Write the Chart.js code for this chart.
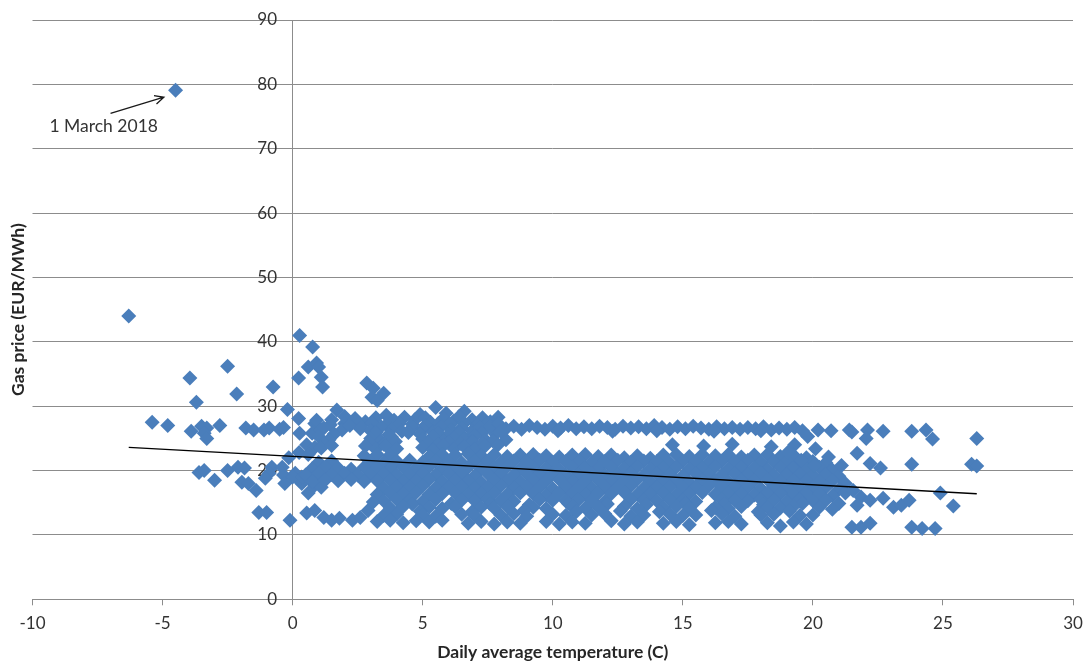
<!DOCTYPE html>
<html>
<head>
<meta charset="utf-8">
<script src="https://cdn.jsdelivr.net/npm/chart.js@4.4.1/dist/chart.umd.min.js"></script>
<style>
  body { margin: 0; background: #fff; }
  #box { width: 1083px; height: 661px; }
</style>
</head>
<body>
<div id="box"><canvas id="scatterChart" width="1083" height="661"></canvas></div>
<script>
// [temperature C, gas price EUR/MWh]
var outlierDays = [[-4.5,79.1],[-6.3,44.0]];

var coldDays = [
  [-5.4,27.5],[-4.8,27.0],[-3.9,26.1],[-3.5,26.9],[-3.3,26.6],[-3.4,25.8],[-3.3,25.0],[-2.8,27.0],
  [-1.8,26.6],[-1.5,26.3],[-1.1,26.3],[-0.9,26.6],[-0.5,26.4],[-0.35,26.7],[-0.2,29.5],
  [-3.95,34.4],[-2.5,36.2],[-3.7,30.6],[-2.15,31.9],[-0.75,33.0],
  [-3.6,19.7],[-3.4,20.0],[-3.0,18.5],[-2.5,20.0],[-2.1,20.5],[-1.85,20.4],[-1.95,18.2],[-1.7,18.0],
  [-1.4,16.9],[-1.3,13.5],[-1.0,13.5],[-0.8,20.5],[-0.9,19.6],[-1.05,18.8],[-0.4,20.5],[-0.35,19.3],
  [-0.3,18.0],[-0.1,12.3],[-0.15,22.0],[0.1,19.6],[0.25,18.5],[0.0,19.0],[0.35,18.0],[0.85,17.7],
  [0.6,16.5],[1.1,19.0],[1.1,17.4],[0.23,28.1],[0.27,25.8],[0.25,22.8],[0.54,24.0],[0.85,23.6],
  [0.85,27.3],[0.92,27.8],[0.75,25.8],[1.1,26.3],[0.6,22.5],[0.85,19.6],[0.35,19.0]
];

var spikeDays = [
  [0.27,41.0],[0.77,39.2],[0.6,36.1],[0.92,36.7],[1.0,36.1],[0.23,34.4],[1.1,34.5],[1.15,33.0],
  [2.85,33.6],[3.1,32.8],[3.05,31.4],[3.5,32.0],[3.25,30.9]
];

var upperBand = [
  [1.7,29.4],[2.0,28.4],[3.6,28.6],[4.9,28.7],[5.5,29.8],[5.9,28.9],[6.6,29.2],[7.9,28.3],
  [1.5,27.9],[2.4,28.1],[2.8,27.6],[3.2,28.2],[3.9,27.8],[4.3,28.3],[4.7,27.9],[5.1,28.2],[5.3,27.5],
  [5.8,28.1],[6.2,27.7],[6.4,28.4],[6.9,27.9],[7.3,28.2],[7.6,27.6],
  [1.45,27.1],[2.0,27.3],[2.55,27.2],[3.05,27.4],[3.6,27.1],[4.1,27.3],[4.6,27.2],[5.1,27.0],
  [5.6,27.3],[6.05,27.2],[6.6,27.4],[7.1,27.1],[7.5,27.3],
  [1.2,26.6],[1.9,26.3],[2.2,27.0],[2.6,26.5],[3.0,26.2],[3.4,26.8],[3.8,26.4],[4.2,26.1],[4.6,26.7],
  [5.0,26.4],[5.4,26.0],[5.7,26.8],[6.1,26.3],[6.5,26.6],[6.9,26.2],[7.2,26.7],
  [1.6,25.7],[3.2,25.9],[3.7,25.6],[4.45,25.9],[4.9,25.7],[5.6,25.8],[6.0,25.6],[6.4,25.9],[6.9,25.7],
  [7.3,25.9],[7.8,25.7],
  [1.0,25.3],[1.4,24.8],[3.0,25.0],[3.4,24.6],[3.8,25.2],[5.0,24.9],[5.4,25.3],[5.8,24.7],[6.2,25.1],
  [6.6,24.9],[7.0,25.4],[7.4,24.8],[7.7,24.6],[8.2,24.8],
  [1.2,24.2],[2.95,24.4],[3.5,24.1],[3.95,24.5],[5.2,24.3],[5.6,24.1],[6.0,24.4],[6.45,24.2],
  [6.9,24.5],[7.3,24.2],[7.9,24.0],
  [1.1,23.5],[1.5,23.9],[2.8,23.8],[3.2,23.3],[3.6,23.8],[4.0,23.4],[5.0,23.6],[5.4,23.2],[5.8,23.9],
  [6.2,23.4],[6.6,23.7],[7.0,23.3],[7.4,23.8],
  [7.6,26.9],[7.9,27.3],[8.2,26.5],[8.5,26.9],[8.8,26.4],[9.1,27.0],[9.4,26.7],[9.7,26.4],[10.0,26.9],
  [10.3,26.6],[10.6,27.0],[10.9,26.5],[11.2,26.8],[11.5,26.5],[11.8,26.9],[12.1,26.7],[12.4,26.4],
  [12.7,26.9],[13.0,26.6],[13.3,26.8],[13.6,26.5],[13.9,27.0],[14.2,26.7],[14.5,26.4],[14.8,26.8],
  [15.1,26.5],[15.4,26.9],[15.7,26.6],[16.0,26.4],[16.3,26.8],[16.6,26.5],[16.9,26.7],[17.2,26.4],
  [17.5,26.7],[17.8,26.5],[18.1,26.8],[18.4,26.3],[18.7,26.6],[19.0,26.4],[19.3,26.7],[19.6,26.2],
  [8.0,26.1],[10.2,26.2],[12.3,26.1],[14.0,26.2],[16.2,26.1],[18.0,26.2],
  [19.8,25.3],[20.2,26.3],[20.7,26.2],[21.4,26.3],[21.5,26.0],[22.1,26.3],[22.05,25.0],[22.7,26.1],
  [23.8,26.1],[24.35,26.3],[24.6,24.9],[26.3,25.0]
];

var gapDays = [
  [14.6,24.0],[15.8,23.8],[16.9,24.1],[18.4,23.7],[19.3,24.0],[20.1,23.4]
];

var middleBlock = [
  [2.75,22.3],[3.25,22.5],[3.75,22.4],[5.25,22.2],[5.75,22.5],[6.25,22.4],[6.75,22.6],[7.25,22.3],
  [7.75,22.5],[8.25,22.2],[8.75,22.4],[9.25,22.5],[9.75,22.3],[10.25,22.1],[10.75,22.4],[11.25,22.5],
  [11.75,22.2],[12.25,22.4],[12.75,22.0],[13.25,22.3],[13.75,21.9],[14.25,22.4],[14.75,22.5],
  [15.25,22.2],[15.75,22.5],[16.25,22.3],[16.75,22.5],[17.25,22.1],[17.75,22.4],[18.25,22.5],
  [18.75,22.2],[19.25,22.4],[19.75,22.0],
  [1.0,21.3],[1.5,21.5],[3.0,21.4],[3.5,21.3],[4.0,21.5],[4.5,21.6],[5.0,21.3],[5.5,21.5],[6.0,21.4],
  [6.5,21.2],[7.0,21.5],[7.5,21.4],[8.0,21.3],[8.5,21.5],[9.0,21.4],[9.5,21.6],[10.0,21.3],[10.5,21.4],
  [11.0,21.5],[11.5,21.3],[12.0,21.4],[12.5,21.6],[13.0,21.3],[13.5,21.5],[14.0,21.4],[14.5,21.2],
  [15.0,21.5],[15.5,21.4],[16.0,21.3],[16.5,21.5],[17.0,21.4],[17.5,21.6],[18.0,21.3],[18.5,21.4],
  [19.0,21.5],[19.5,21.3],[20.0,21.4],[20.5,21.2],
  [0.75,20.3],[1.25,20.5],[1.75,20.4],[2.25,20.2],[2.75,20.5],[3.25,20.4],[3.75,20.3],[4.25,20.5],
  [4.75,20.4],[5.25,20.6],[5.75,20.3],[6.25,20.4],[6.75,20.5],[7.25,20.3],[7.75,20.4],[8.25,20.6],
  [8.75,20.3],[9.25,20.5],[9.75,20.4],[10.25,20.2],[10.75,20.5],[11.25,20.4],[11.75,20.3],
  [12.25,20.5],[12.75,20.4],[13.25,20.6],[13.75,20.3],[14.25,20.4],[14.75,20.5],[15.25,20.3],
  [15.75,20.4],[16.25,20.6],[16.75,20.3],[17.25,20.5],[17.75,20.4],[18.25,20.2],[18.75,20.5],
  [19.25,20.4],[19.75,20.3],[20.25,20.5],[20.75,20.1],
  [0.5,19.3],[1.0,19.5],[1.5,19.4],[2.0,19.6],[2.5,19.3],[3.0,19.4],[3.5,19.5],[4.0,19.3],[4.5,19.4],
  [5.0,19.6],[5.5,19.3],[6.0,19.5],[6.5,19.4],[7.0,19.2],[7.5,19.5],[8.0,19.4],[8.5,19.3],[9.0,19.5],
  [9.5,19.4],[10.0,19.6],[10.5,19.3],[11.0,19.4],[11.5,19.5],[12.0,19.3],[12.5,19.4],[13.0,19.6],
  [13.5,19.3],[14.0,19.5],[14.5,19.4],[15.0,19.2],[15.5,19.5],[16.0,19.4],[16.5,19.3],[17.0,19.5],
  [17.5,19.4],[18.0,19.6],[18.5,19.3],[19.0,19.4],[19.5,19.5],[20.0,19.3],[20.5,19.4],[21.0,19.1],
  [0.75,18.3],[1.25,18.5],[1.75,18.4],[2.25,18.6],[2.75,18.3],[3.25,18.4],[3.75,18.5],[4.25,18.3],
  [4.75,18.4],[5.25,18.6],[5.75,18.3],[6.25,18.5],[6.75,18.4],[7.25,18.2],[7.75,18.5],[8.25,18.4],
  [8.75,18.3],[9.25,18.5],[9.75,18.4],[10.25,18.6],[10.75,18.3],[11.25,18.4],[11.75,18.5],
  [12.25,18.3],[12.75,18.4],[13.25,18.6],[13.75,18.3],[14.25,18.5],[14.75,18.4],[15.25,18.2],
  [15.75,18.5],[16.25,18.4],[16.75,18.3],[17.25,18.5],[17.75,18.4],[18.25,18.6],[18.75,18.3],
  [19.25,18.4],[19.75,18.5],[20.25,18.3],[20.75,18.4],[21.25,18.0],
  [3.5,17.3],[4.0,17.5],[4.5,17.4],[5.0,17.6],[5.5,17.3],[6.0,17.4],[6.5,17.5],[7.0,17.3],[7.5,17.4],
  [8.0,17.6],[8.5,17.3],[9.0,17.5],[9.5,17.4],[10.0,17.2],[10.5,17.5],[11.0,17.4],[11.5,17.3],
  [12.0,17.5],[12.5,17.4],[13.0,17.6],[13.5,17.3],[14.0,17.4],[14.5,17.5],[15.0,17.3],[15.5,17.4],
  [16.0,17.6],[16.5,17.3],[17.0,17.5],[17.5,17.4],[18.0,17.2],[18.5,17.5],[19.0,17.4],[19.5,17.3],
  [20.0,17.5],[20.5,17.4],[21.0,17.1],
  [3.25,16.3],[3.75,16.5],[4.25,16.4],[4.75,16.6],[5.25,16.3],[5.75,16.4],[6.25,16.5],[6.75,16.3],
  [7.25,16.4],[7.75,16.6],[8.25,16.3],[8.75,16.5],[9.25,16.4],[9.75,16.2],[10.25,16.5],[10.75,16.4],
  [11.25,16.3],[11.75,16.5],[12.25,16.4],[12.75,16.6],[13.25,16.3],[13.75,16.4],[14.25,16.5],
  [14.75,16.3],[15.25,16.4],[15.75,16.6],[16.25,16.3],[16.75,16.5],[17.25,16.4],[17.75,16.2],
  [18.25,16.5],[18.75,16.4],[19.25,16.3],[19.75,16.5],[20.25,16.4],[20.75,16.1],[21.25,16.5]
];

var lowerBand = [
  [3.5,15.3],[4.0,15.5],[4.5,15.4],[5.0,15.2],[5.5,15.5],[6.5,15.4],[7.0,15.3],[7.5,15.5],[8.0,15.4],
  [8.5,15.2],[9.5,15.5],[10.0,15.4],[10.5,15.3],[11.0,15.5],[11.5,15.4],[12.0,15.2],[13.0,15.5],
  [13.5,15.4],[14.0,15.3],[14.5,15.5],[15.0,15.4],[15.5,15.2],[16.5,15.5],[17.0,15.4],[17.5,15.3],
  [18.0,15.5],[18.5,15.4],[19.0,15.2],[19.5,15.5],[20.0,15.3],[20.5,15.4],[21.0,14.9],
  [4.6,14.8],[6.1,14.9],[7.6,14.8],[9.1,14.7],[10.6,14.9],[12.1,14.8],[13.6,14.7],[15.1,14.9],
  [16.6,14.8],[18.1,14.7],[19.6,14.9],
  [3.75,14.2],[4.25,14.4],[5.25,14.3],[5.75,14.1],[6.25,14.4],[7.25,14.3],[7.75,14.2],[8.25,14.4],
  [9.25,14.3],[9.75,14.1],[10.75,14.4],[11.25,14.2],[11.75,14.3],[12.75,14.4],[13.25,14.1],
  [14.25,14.3],[14.75,14.4],[15.25,14.2],[16.25,14.3],[16.75,14.1],[17.25,14.4],[18.25,14.3],
  [18.75,14.2],[19.25,14.4],[20.25,14.3],[20.75,14.0],
  [4.9,13.7],[6.9,13.6],[8.9,13.8],[10.9,13.6],[12.6,13.7],[14.1,13.6],[16.1,13.8],[17.9,13.6],
  [19.1,13.7],
  [3.5,13.0],[4.0,13.2],[5.0,13.1],[5.5,12.9],[6.5,13.2],[7.0,13.0],[8.0,13.1],[8.5,13.3],[9.0,12.9],
  [10.0,13.2],[10.5,13.0],[11.5,13.1],[12.0,13.3],[13.0,12.9],[13.5,13.1],[14.5,13.2],[15.0,13.0],
  [15.5,13.1],[16.5,13.3],[17.0,12.9],[18.0,13.1],[18.5,13.2],[19.5,13.0],[20.0,13.1],
  [3.25,12.1],[3.75,12.3],[4.25,11.9],[4.75,12.2],[5.25,12.0],[5.75,12.3],[6.75,11.8],[7.25,12.1],
  [7.75,11.7],[8.25,12.0],[8.75,11.8],[9.75,12.1],[10.25,11.7],[10.75,12.0],[11.25,11.8],[12.25,12.2],
  [12.75,11.7],[13.25,12.0],[14.25,11.8],[14.75,12.1],[15.25,11.6],[16.25,11.9],[16.75,12.1],
  [17.25,11.7],[18.25,11.9],[18.75,11.4],[19.25,12.0],[19.75,11.7],
  [0.54,13.4],[0.85,13.8],[1.2,12.7],[1.5,12.3],[1.8,12.6],[2.3,12.3],[2.6,12.7],[2.9,13.8],[3.1,15.1]
];

var warmDays = [
  [19.05,22.9],[19.55,21.6],[20.05,20.8],[20.6,22.1],[21.1,20.8],
  [21.7,22.7],[22.2,21.1],[22.6,20.4],[23.8,21.0],[26.1,21.0],[26.3,20.7],
  [21.55,16.9],[21.85,15.9],[21.7,14.6],[22.2,15.4],[22.7,15.7],[23.1,14.3],[23.4,14.6],[23.7,15.4],
  [24.9,16.5],[25.4,14.5],
  [21.5,11.2],[21.85,11.2],[22.2,11.8],[23.8,11.2],[24.2,11.0],[24.7,11.0]
];

// linear trend drawn in the original chart
var trendTemps = [-6.3, 26.3];
var trendPrices = [23.6, 16.4];

var xTicks = [-10, 30, 5];
var yTicks = [0, 90, 10];
var yLabelAt = -0.6;

var noteText = '1 March 2018';
var notePos = [-9.35, 73.5];
var arrowFrom = [-7.0, 75.5];
var arrowTo = [-4.95, 78.0];

var allDays = outlierDays.concat(coldDays, spikeDays, upperBand, gapDays, middleBlock, lowerBand, warmDays);
var scatterData = allDays.map(function (d) { return { x: d[0], y: d[1] }; });
var trendData = trendTemps.map(function (t, i) { return { x: t, y: trendPrices[i] }; });

var gridGrey = '#8c8c8c';
var textFont = 'Lato, "Open Sans", sans-serif';

var notePlugin = {
  id: 'note',
  afterDatasetsDraw: function (chart) {
    var ctx = chart.ctx;
    var xs = chart.scales.x, ys = chart.scales.y;
    ctx.save();
    ctx.fillStyle = '#333333';
    ctx.font = '17.5px ' + textFont;
    ctx.textAlign = 'left';
    ctx.textBaseline = 'middle';
    ctx.fillText(noteText, xs.getPixelForValue(notePos[0]), ys.getPixelForValue(notePos[1]));

    var x1 = xs.getPixelForValue(arrowFrom[0]), y1 = ys.getPixelForValue(arrowFrom[1]);
    var x2 = xs.getPixelForValue(arrowTo[0]), y2 = ys.getPixelForValue(arrowTo[1]);
    var ang = Math.atan2(y2 - y1, x2 - x1);
    ctx.strokeStyle = '#1a1a1a';
    ctx.lineWidth = 1.3;
    ctx.beginPath();
    ctx.moveTo(x1, y1);
    ctx.lineTo(x2, y2);
    ctx.moveTo(x2 - 10 * Math.cos(ang - 0.45), y2 - 10 * Math.sin(ang - 0.45));
    ctx.lineTo(x2, y2);
    ctx.lineTo(x2 - 10 * Math.cos(ang + 0.45), y2 - 10 * Math.sin(ang + 0.45));
    ctx.stroke();
    ctx.restore();
  }
};

var ctxS = document.getElementById('scatterChart').getContext('2d');
var myChart = new Chart(ctxS, {
  type: 'scatter',
  data: {
    datasets: [
      {
        type: 'line',
        label: 'Trend',
        data: trendData,
        yAxisID: 'y',
        borderColor: '#000000',
        borderWidth: 1.3,
        pointRadius: 0,
        fill: false,
        order: 0
      },
      {
        label: 'Gas price',
        data: scatterData,
        yAxisID: 'y',
        pointStyle: 'rectRot',
        pointRadius: 7.5,
        pointBackgroundColor: '#4a7ebb',
        pointBorderColor: '#4a7ebb',
        pointBorderWidth: 0,
        order: 1
      }
    ]
  },
  options: {
    responsive: false,
    animation: false,
    devicePixelRatio: 1,
    layout: { padding: { left: 4, right: 10, top: 20, bottom: 0 } },
    plugins: {
      legend: { display: false },
      tooltip: { enabled: false }
    },
    scales: {
      x: {
        type: 'linear',
        position: 'bottom',
        min: xTicks[0],
        max: xTicks[1],
        ticks: { stepSize: xTicks[2], color: '#333333', font: { family: textFont, size: 17, lineHeight: 2.1 }, padding: 0 },
        grid: { drawOnChartArea: false, drawTicks: true, tickLength: 6, color: gridGrey },
        border: { color: gridGrey },
        title: {
          display: true,
          text: 'Daily average temperature (C)',
          color: '#262626',
          font: { family: textFont, size: 17.5, weight: 'bold', lineHeight: 1.0 },
          padding: { top: 2.5, bottom: 0 }
        }
      },
      y: {
        type: 'linear',
        position: { x: 0 },
        min: yTicks[0],
        max: yTicks[1],
        ticks: { stepSize: yTicks[2], display: false },
        grid: { color: gridGrey, drawTicks: false },
        border: { color: gridGrey }
      },
      yLabels: {
        type: 'linear',
        position: { x: yLabelAt },
        min: yTicks[0],
        max: yTicks[1],
        ticks: { stepSize: yTicks[2], color: '#333333', font: { family: textFont, size: 17 } },
        grid: { display: false, drawTicks: false },
        border: { display: false }
      },
      yTitle: {
        type: 'linear',
        position: 'left',
        min: yTicks[0],
        max: yTicks[1],
        ticks: { display: false },
        grid: { display: false, drawTicks: false },
        border: { display: false },
        title: {
          display: true,
          text: 'Gas price (EUR/MWh)',
          color: '#262626',
          font: { family: textFont, size: 17.5, weight: 'bold', lineHeight: 1.0 },
          padding: { top: 6, bottom: 5 }
        }
      }
    }
  },
  plugins: [notePlugin]
});
</script>
</body>
</html>
